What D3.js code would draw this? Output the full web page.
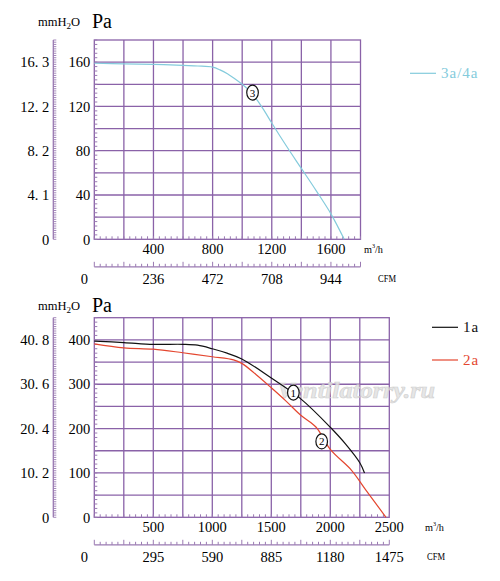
<!DOCTYPE html>
<html>
<head>
<meta charset="utf-8">
<script src="https://cdn.jsdelivr.net/npm/d3@7"></script>
<style>
  body { margin: 0; background: #fff; }
  text { font-family: "Liberation Serif", "DejaVu Serif", serif; }
</style>
</head>
<body>
<div id="chart"></div>
<script>
// ---- data ----
// top chart: curve 3a/4a  [m3/h, Pa]
const flowTop = [0, 200, 400, 600, 700, 800, 850, 900, 950, 1000, 1050, 1100, 1150, 1200, 1300, 1400, 1500, 1600, 1690];
const paTop3a = [159, 158.5, 158, 157, 156.5, 155.5, 153, 149.5, 145, 140, 134, 126, 116, 105, 84, 64, 44, 23, 0];

// bottom chart: curves 1a and 2a
const flow1a = [0, 250, 500, 750, 875, 1000, 1125, 1250, 1500, 1750, 2000, 2130, 2250, 2290];
const pa1a   = [397, 394, 390, 390, 388, 380, 370, 357, 314, 267, 203, 165, 123, 100];
const flow2a = [0, 250, 500, 750, 1000, 1180, 1250, 1370, 1500, 1625, 1750, 1880, 2000, 2180, 2300, 2472];
const pa2a   = [391, 382, 379, 371, 362, 355, 347, 322, 292, 262, 230, 203, 153, 106, 62, 0];

// tick labels
const paTicksTop = [0, 40, 80, 120, 160];
const mmLabelsTop = ["0", "4. 1", "8. 2", "12. 2", "16. 3"];
const flowTicksTop = [400, 800, 1200, 1600];
const cfmTicksTop = [0, 236, 472, 708, 944];

const paTicksBot = [0, 100, 200, 300, 400];
const mmLabelsBot = ["0", "10. 2", "20. 4", "30. 6", "40. 8"];
const flowTicksBot = [500, 1000, 1500, 2000, 2500];
const cfmTicksBot = [0, 295, 590, 885, 1180, 1475];

const CFM_TO_M3H = 1.6949;

const width = 500, height = 581;
const gridColor = "#8a62a8";
const tickColor = "#9a7ab2";

const svg = d3.select("#chart")
  .append("svg")
  .attr("width", width)
  .attr("height", height);

// draws one panel (grid, axes, labels); returns scales
function drawPanel(p) {
  const x = d3.scaleLinear().domain([0, p.xMax]).range([p.left, p.right]);
  const y = d3.scaleLinear().domain([0, p.yMax]).range([p.bottom, p.top]);
  const g = svg.append("g");

  // grid
  g.append("g").selectAll("line")
    .data(d3.range(p.xStep, p.xMax, p.xStep))
    .join("line")
      .attr("x1", d => x(d)).attr("x2", d => x(d))
      .attr("y1", p.top).attr("y2", p.bottom)
      .attr("stroke", gridColor).attr("stroke-width", 1.3);
  g.append("g").selectAll("line")
    .data(d3.range(p.yStep, p.yMax, p.yStep))
    .join("line")
      .attr("x1", p.left).attr("x2", p.right)
      .attr("y1", d => y(d)).attr("y2", d => y(d))
      .attr("stroke", gridColor).attr("stroke-width", 1.3);
  g.append("rect")
    .attr("x", p.left).attr("y", p.top)
    .attr("width", p.right - p.left).attr("height", p.bottom - p.top)
    .attr("fill", "none").attr("stroke", gridColor).attr("stroke-width", 1.3);

  // small ticks inside the Pa axis
  g.append("g").selectAll("line")
    .data(d3.range(0, p.yMax + 0.01, p.yStep / 5))
    .join("line")
      .attr("x1", p.left).attr("x2", p.left + 3)
      .attr("y1", d => y(d)).attr("y2", d => y(d))
      .attr("stroke", tickColor).attr("stroke-width", 1);

  // small ticks inside the flow axis
  g.append("g").selectAll("line")
    .data(d3.range(0, p.xMax + 0.01, p.xStep / 5))
    .join("line")
      .attr("x1", d => x(d)).attr("x2", d => x(d))
      .attr("y1", p.bottom).attr("y2", p.bottom - 3)
      .attr("stroke", tickColor).attr("stroke-width", 1);

  // mmH2O axis
  const mmX = 53.3;
  g.append("line")
    .attr("x1", mmX).attr("x2", mmX).attr("y1", p.top).attr("y2", p.bottom)
    .attr("stroke", tickColor).attr("stroke-width", 1.3);
  g.append("g").selectAll("line")
    .data(d3.range(0, p.yMax + 0.01, p.yStep / 10))
    .join("line")
      .attr("x1", mmX).attr("x2", mmX + 3)
      .attr("y1", d => y(d)).attr("y2", d => y(d))
      .attr("stroke", tickColor).attr("stroke-width", 0.9);

  // Pa labels
  g.append("g").selectAll("text")
    .data(p.paTicks)
    .join("text")
      .attr("x", p.left - 4).attr("y", d => y(d))
      .attr("dy", "0.36em").attr("text-anchor", "end")
      .attr("font-size", 14.5).text(d => d);
  // mmH2O labels
  g.append("g").selectAll("text")
    .data(p.paTicks)
    .join("text")
      .attr("x", mmX - 4).attr("y", d => y(d))
      .attr("dy", "0.36em").attr("text-anchor", "end")
      .attr("font-size", 14.5).text((d, i) => p.mmLabels[i]);

  // headers
  const hd = g.append("text").attr("x", 38).attr("y", p.headY).attr("font-size", 12.5);
  hd.append("tspan").text("mmH");
  hd.append("tspan").attr("font-size", 9).attr("dy", 3).text("2");
  hd.append("tspan").attr("dy", -3).text("O");
  g.append("text").attr("x", 92).attr("y", p.headY + 2)
    .attr("font-size", 20).text("Pa");

  // flow labels
  g.append("g").selectAll("text")
    .data(p.flowTicks)
    .join("text")
      .attr("x", d => x(d)).attr("y", p.bottom + 9.5)
      .attr("dy", "0.36em").attr("text-anchor", "middle")
      .attr("font-size", 14.5).text(d => d);
  const un = g.append("text").attr("x", p.m3hX).attr("y", p.bottom + 14)
    .attr("font-size", 10).attr("textLength", 19).attr("lengthAdjust", "spacingAndGlyphs");
  un.append("tspan").text("m");
  un.append("tspan").attr("font-size", 6).attr("dy", -5).text("3");
  un.append("tspan").attr("dy", 5).text("/h");

  // CFM axis
  const cfmY = p.bottom + 27.5;
  const xc = d3.scaleLinear().domain([0, p.xMax / CFM_TO_M3H]).range([p.left, p.right]);
  g.append("line")
    .attr("x1", p.left).attr("x2", p.right).attr("y1", cfmY).attr("y2", cfmY)
    .attr("stroke", tickColor).attr("stroke-width", 1.3);
  g.append("g").selectAll("line")
    .data(d3.range(0, p.xMax + 0.01, p.xStep / 5))
    .join("line")
      .attr("x1", d => x(d)).attr("x2", d => x(d))
      .attr("y1", cfmY).attr("y2", (d, i) => cfmY - (i % 5 === 0 ? 5 : 3))
      .attr("stroke", tickColor).attr("stroke-width", 1);
  g.append("g").selectAll("text")
    .data(p.cfmTicks)
    .join("text")
      .attr("x", d => d === 0 ? p.left - 10 : xc(d)).attr("y", cfmY + 11.5)
      .attr("dy", "0.36em").attr("text-anchor", "middle")
      .attr("font-size", 14.5).text(d => d);
  g.append("text").attr("x", p.cfmX).attr("y", cfmY + 15)
    .attr("font-size", 10).attr("textLength", 18).attr("lengthAdjust", "spacingAndGlyphs")
    .text("CFM");

  return { x, y };
}

function drawCurve(sc, xs, ys, color) {
  const pts = xs.map((v, i) => [v, ys[i]]);
  svg.append("path")
    .datum(pts)
    .attr("fill", "none")
    .attr("stroke", color)
    .attr("stroke-width", 1.2)
    .attr("d", d3.line().x(d => sc.x(d[0])).y(d => sc.y(d[1])).curve(d3.curveCatmullRom.alpha(0.5)));
}

function drawMarker(sc, v, pa, label) {
  const g = svg.append("g").attr("transform", `translate(${sc.x(v)},${sc.y(pa)})`);
  g.append("ellipse").attr("rx", 5.8).attr("ry", 7.5)
    .attr("fill", "#fff").attr("stroke", "#111").attr("stroke-width", 1.2);
  g.append("text").attr("text-anchor", "middle").attr("dy", "0.36em")
    .attr("font-size", 11).attr("font-family", "DejaVu Sans").text(label);
}

function drawLegend(x, y, label, color) {
  svg.append("line").attr("x1", x).attr("x2", x + 26).attr("y1", y).attr("y2", y)
    .attr("stroke", color).attr("stroke-width", 1.2);
  svg.append("text").attr("x", x + 31).attr("y", y + 5)
    .attr("font-size", 15).attr("letter-spacing", 1).attr("fill", color).text(label);
}

// ---- top panel ----
const topScales = drawPanel({
  left: 94.3, right: 360.5, top: 40, bottom: 239.3,
  xMax: 1800, xStep: 200, yMax: 180, yStep: 20,
  paTicks: paTicksTop, mmLabels: mmLabelsTop,
  flowTicks: flowTicksTop, cfmTicks: cfmTicksTop,
  headY: 26, m3hX: 364, cfmX: 378
});
drawCurve(topScales, flowTop, paTop3a, "#84cbdc");
drawMarker(topScales, 1070, 132.5, "3");
drawLegend(410, 73.3, "3a/4a", "#84cbdc");

// ---- bottom panel ----
const botScales = drawPanel({
  left: 94.3, right: 389.3, top: 317.7, bottom: 517.3,
  xMax: 2500, xStep: 250, yMax: 450, yStep: 50,
  paTicks: paTicksBot, mmLabels: mmLabelsBot,
  flowTicks: flowTicksBot, cfmTicks: cfmTicksBot,
  headY: 310, m3hX: 425, cfmX: 427
});

// watermark
svg.append("text")
  .attr("x", 277).attr("y", 398)
  .attr("font-family", "DejaVu Sans").attr("font-style", "italic").attr("font-weight", "bold")
  .attr("font-size", 24).attr("textLength", 158).attr("lengthAdjust", "spacingAndGlyphs")
  .attr("fill", "#e2e2e2").attr("stroke", "#c8c8c8").attr("stroke-width", 0.6)
  .attr("opacity", 0.85)
  .text("Ventilatorry.ru");

drawCurve(botScales, flow1a, pa1a, "#111");
drawCurve(botScales, flow2a, pa2a, "#e4462f");
drawMarker(botScales, 1687, 281, "1");
drawMarker(botScales, 1927, 171, "2");
drawLegend(432, 327.3, "1a", "#111");
drawLegend(432, 360, "2a", "#e4462f");
</script>
</body>
</html>
